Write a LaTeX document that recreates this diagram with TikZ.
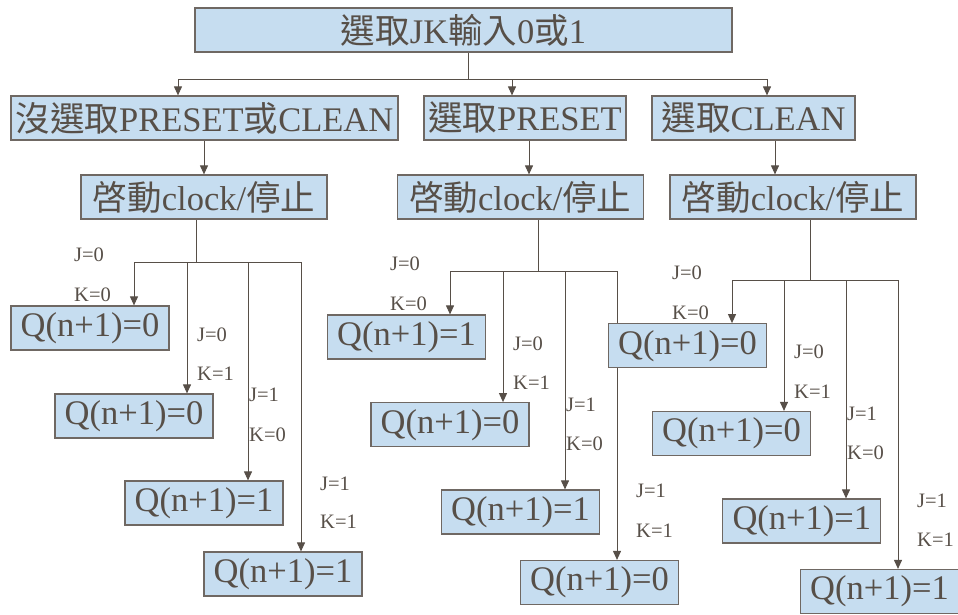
\documentclass[tikz,border=0pt]{standalone}
\usepackage{fontspec}
\setmainfont{Liberation Serif}
\newfontfamily\cjk{Noto Sans CJK TC}
\usetikzlibrary{arrows.meta,backgrounds}
\definecolor{boxfill}{HTML}{C6DDF0}
\definecolor{ink}{HTML}{574F48}
\definecolor{edgecol}{HTML}{6F6863}
\begin{document}
\begin{tikzpicture}[x=1pt,y=-1pt,
  box/.style={draw=edgecol, fill=boxfill, line width=1.2pt, inner sep=0pt, text=ink,
    minimum height=44pt, font=\fontsize{34.5}{36}\selectfont},
  qbox/.style={box, minimum width=158pt, font=\fontsize{34.5}{36}\selectfont},
  ln/.style={draw=ink, line width=1pt},
  arr/.style={ln, -{Triangle[length=9pt,width=8pt]}},
  lbl/.style={text=ink, font=\fontsize{20.5}{22}\selectfont, anchor=base west, inner sep=0pt}]
\useasboundingbox (0,0) rectangle (958,614);

% boxes
\node[box, minimum width=537pt] (top) at (463.5,30) {{\cjk 選取}JK{\cjk 輸入}0{\cjk 或}1};
\node[box, minimum width=387pt] (nopc) at (204.5,118) {{\cjk 沒選取}PRESET{\cjk 或}CLEAN};
\node[box, minimum width=202pt] (pre) at (525,118) {{\cjk 選取}PRESET};
\node[box, minimum width=203pt] (clr) at (753.5,118) {{\cjk 選取}CLEAN};
\node[box, minimum width=246pt] (ck1) at (204,197) {{\cjk 啓動}clock/{\cjk 停止}};
\node[box, minimum width=246pt] (ck2) at (520.3,197) {{\cjk 啓動}clock/{\cjk 停止}};
\node[box, minimum width=246pt] (ck3) at (793,197) {{\cjk 啓動}clock/{\cjk 停止}};

\node[qbox] (q11) at (90,328) {Q(n+1)=0};
\node[qbox] (q12) at (134,416) {Q(n+1)=0};
\node[qbox] (q13) at (204,503) {Q(n+1)=1};
\node[qbox] (q14) at (283,574) {Q(n+1)=1};
\node[qbox] (q21) at (406.5,337) {Q(n+1)=1};
\node[qbox] (q22) at (450,424.7) {Q(n+1)=0};
\node[qbox] (q23) at (520.5,512) {Q(n+1)=1};
\node[qbox] (q24) at (599.5,582.5) {Q(n+1)=0};
\node[qbox] (q31) at (687.5,345.7) {Q(n+1)=0};
\node[qbox] (q32) at (731.5,433.5) {Q(n+1)=0};
\node[qbox] (q33) at (801.8,521) {Q(n+1)=1};
\node[qbox] (q34) at (879.5,591.5) {Q(n+1)=1};

% coordinates
\coordinate (t0) at (468,79);
\coordinate (ta) at (178,79);
\coordinate (tb) at (512,79);
\coordinate (tc) at (767,79);
\coordinate (xa) at (204,0);
\coordinate (xb) at (529,0);
\coordinate (xc) at (775,0);
\coordinate (g1) at (196,262);
\coordinate (g1a) at (134,262);
\coordinate (g1b) at (187,262);
\coordinate (g1c) at (248,262);
\coordinate (g1d) at (301,262);
\coordinate (g2) at (538,271);
\coordinate (g2a) at (450,271);
\coordinate (g2b) at (503,271);
\coordinate (g2c) at (565,271);
\coordinate (g2d) at (617,271);
\coordinate (g3) at (810,280);
\coordinate (g3a) at (732,280);
\coordinate (g3b) at (784,280);
\coordinate (g3c) at (846,280);
\coordinate (g3d) at (898,280);

\begin{scope}[on background layer]
\draw[ln] (top.south -| t0) -- (t0);
\draw[ln] (ta) -- (tc);
\draw[arr] (ta) -- (ta |- nopc.north);
\draw[arr] (tb) -- (tb |- pre.north);
\draw[arr] (tc) -- (tc |- clr.north);

\draw[arr] (nopc.south -| xa) -- (ck1.north -| xa);
\draw[arr] (pre.south -| xb) -- (ck2.north -| xb);
\draw[arr] (clr.south -| xc) -- (ck3.north -| xc);

\draw[ln] (ck1.south -| g1) -- (g1);
\draw[ln] (g1a) -- (g1d);
\draw[arr] (g1a) -- (g1a |- q11.north);
\draw[arr] (g1b) -- (g1b |- q12.north);
\draw[arr] (g1c) -- (g1c |- q13.north);
\draw[arr] (g1d) -- (g1d |- q14.north);

\draw[ln] (ck2.south -| g2) -- (g2);
\draw[ln] (g2a) -- (g2d);
\draw[arr] (g2a) -- (g2a |- q21.north);
\draw[arr] (g2b) -- (g2b |- q22.north);
\draw[arr] (g2c) -- (g2c |- q23.north);
\draw[arr] (g2d) -- (g2d |- q24.north);

\draw[ln] (ck3.south -| g3) -- (g3);
\draw[ln] (g3a) -- (g3d);
\draw[arr] (g3a) -- (g3a |- q31.north);
\draw[arr] (g3b) -- (g3b |- q32.north);
\draw[arr] (g3c) -- (g3c |- q33.north);
\draw[arr] (g3d) -- (g3d |- q34.north);
\end{scope}

% labels
\node[lbl] (l11) at (74,261.7) {J=0};
\node[lbl] (l12) at (74,301) {K=0};
\node[lbl] (l13) at (197,341) {J=0};
\node[lbl] (l14) at (197,380) {K=1};
\node[lbl] (l15) at (249,401.7) {J=1};
\node[lbl] (l16) at (249,441.7) {K=0};
\node[lbl] (l17) at (320,490) {J=1};
\node[lbl] (l18) at (320,528.3) {K=1};

\node[lbl] (l21) at (390,270.7) {J=0};
\node[lbl] (l22) at (390,310) {K=0};
\node[lbl] (l23) at (513,350) {J=0};
\node[lbl] (l24) at (513,389) {K=1};
\node[lbl] (l25) at (566,411) {J=1};
\node[lbl] (l26) at (566,450) {K=0};
\node[lbl] (l27) at (636,497.7) {J=1};
\node[lbl] (l28) at (636,537.7) {K=1};

\node[lbl] (l31) at (672,279.3) {J=0};
\node[lbl] (l32) at (672,319.3) {K=0};
\node[lbl] (l33) at (794,358.3) {J=0};
\node[lbl] (l34) at (794,398.3) {K=1};
\node[lbl] (l35) at (847,420) {J=1};
\node[lbl] (l36) at (847,459.3) {K=0};
\node[lbl] (l37) at (917,507.3) {J=1};
\node[lbl] (l38) at (917,546.7) {K=1};
\end{tikzpicture}
\end{document}
